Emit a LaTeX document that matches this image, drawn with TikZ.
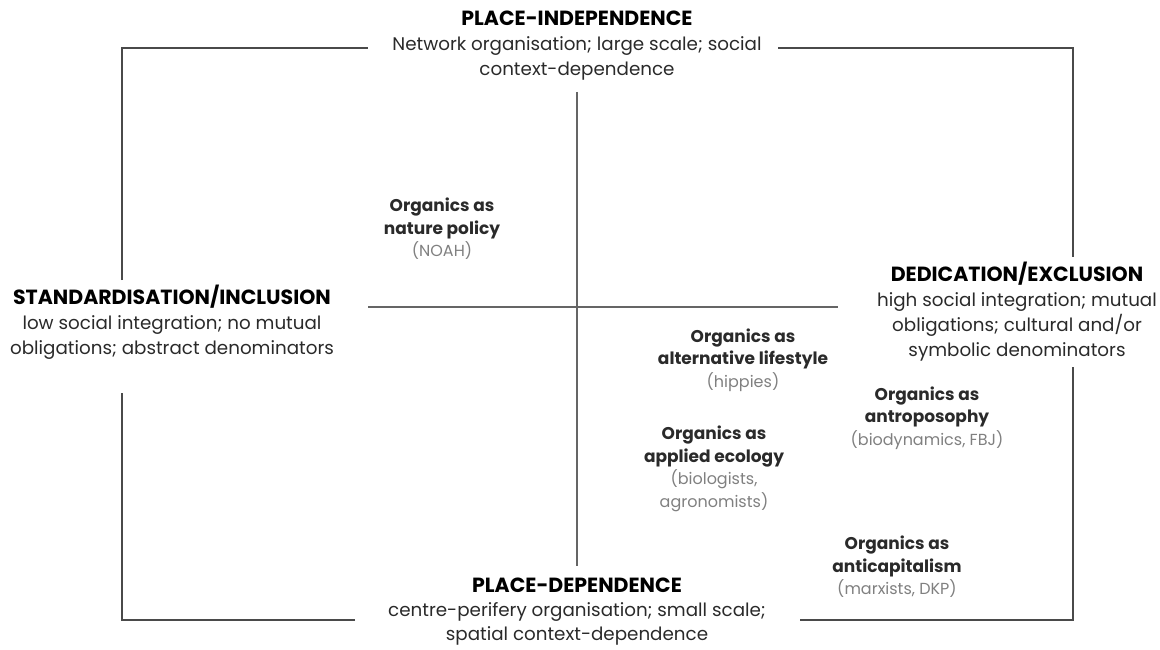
\documentclass[tikz,border=0pt]{standalone}
\usepackage{fontspec}
\setmainfont{Poppins}
\usetikzlibrary{positioning}

\definecolor{ink}{HTML}{2a2a2a}
\definecolor{note}{HTML}{808080}
\definecolor{rule}{HTML}{4a4a4a}

\tikzstyle{pole} = [align=center, text=ink, inner sep=0pt, font=\fontsize{18.3}{25}\selectfont]
\tikzstyle{view} = [align=center, text=ink, inner sep=0pt, font=\fontsize{17}{22.5}\selectfont]
\tikzstyle{border} = [draw=rule, line width=2.6pt]
\tikzstyle{quad} = [draw=rule!85, line width=1.8pt]

\newcommand{\hd}[1]{{\fontsize{20.5}{25}\selectfont\bfseries\color{black}#1}}
\newcommand{\nt}[1]{{\fontsize{16}{22.5}\selectfont\color{note}#1}}

\begin{document}
\begin{tikzpicture}[x=1pt, y=-1pt, semithick]
\useasboundingbox (0,0) rectangle (1160,650);

% the four poles
\node[pole] (indep) at (577,46) {\hd{PLACE-INDEPENDENCE}\\Network organisation; large scale; social\\context-dependence};
\node[pole, font=\fontsize{18.3}{24}\selectfont] (dep) at (577,612) {\hd{PLACE-DEPENDENCE}\\centre-perifery organisation; small scale;\\spatial context-dependence};
\node[pole] (stand) at (172,322) {\hd{STANDARDISATION/INCLUSION}\\low social integration; no mutual\\obligations; abstract denominators};
\node[pole] (dedic) at (1017,312) {\hd{DEDICATION/EXCLUSION}\\high social integration; mutual\\obligations; cultural and/or\\symbolic denominators};

% the five views on organics
\node[view] (nature) at (442,229) {\textbf{Organics as}\\\textbf{nature policy}\\\nt{(NOAH)}};
\node[view] (hippie) at (743,360) {\textbf{Organics as}\\\textbf{alternative lifestyle}\\\nt{(hippies)}};
\node[view] (antro) at (927,418) {\textbf{Organics as}\\\textbf{antroposophy}\\\nt{(biodynamics, FBJ)}};
\node[view] (ecology) at (714,469) {\textbf{Organics as}\\\textbf{applied ecology}\\\nt{(biologists,}\\\nt{agronomists)}};
\node[view] (anticap) at (897,567) {\textbf{Organics as}\\\textbf{anticapitalism}\\\nt{(marxists, DKP)}};

% frame
\coordinate (tl) at (122,48);
\coordinate (tr) at (1073,48);
\coordinate (br) at (1073,620);
\coordinate (bl) at (122,620);
\coordinate (topA) at (368,48);
\coordinate (topB) at (778,48);
\coordinate (botA) at (355,620);
\coordinate (botB) at (800,620);
\coordinate (leftA) at (122,280);
\coordinate (leftB) at (122,393);
\coordinate (rightA) at (1073,257);
\coordinate (rightB) at (1073,367);

\draw[border] (leftA) -- (tl) -- (topA);
\draw[border] (topB) -- (tr) -- (rightA);
\draw[border] (rightB) -- (br) -- (botB);
\draw[border] (botA) -- (bl) -- (leftB);

% quadrants
\coordinate (up) at (577,92);
\coordinate (down) at (577,566);
\coordinate (west) at (368,307);
\coordinate (east) at (838,307);
\draw[quad] (up) -- (down);
\draw[quad] (west) -- (east);

\end{tikzpicture}
\end{document}
